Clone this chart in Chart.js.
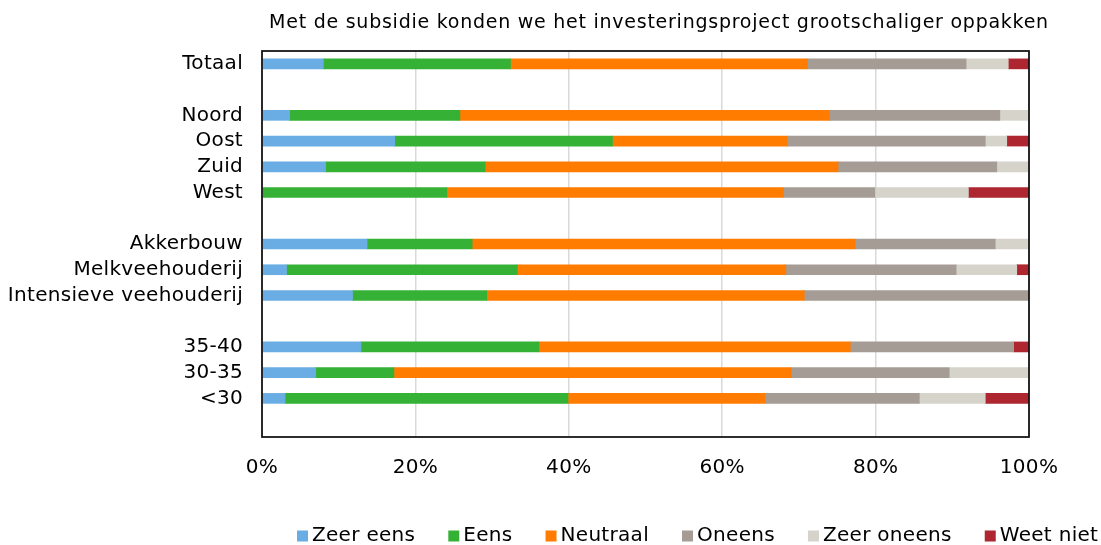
<!DOCTYPE html>
<html>
<head>
<meta charset="utf-8">
<script src="https://cdn.jsdelivr.net/npm/chart.js@4.4.1/dist/chart.umd.min.js"></script>
<style>
  html, body { margin: 0; padding: 0; background: #fff; }
  #wrap { width: 1101px; height: 545px; position: relative; }
</style>
</head>
<body>
<div id="wrap"><canvas id="c" width="1101" height="545"></canvas></div>
<script>
// Rows of the chart; empty strings are spacer rows between groups
const categories = ['Totaal', '', 'Noord', 'Oost', 'Zuid', 'West', '',
  'Akkerbouw', 'Melkveehouderij', 'Intensieve veehouderij', '',
  '35-40', '30-35', '<30', ''];

// Share of answers per row (%)
const zeerEens   = [8.0, null, 3.6, 17.3, 8.3, 0.0, null, 13.7, 3.2, 11.8, null, 12.9, 7.0, 3.0, null];
const eens       = [24.4, null, 22.2, 28.4, 20.8, 24.1, null, 13.7, 30.1, 17.5, null, 23.2, 10.2, 36.9, null];
const neutraal   = [38.7, null, 48.2, 22.8, 46.0, 43.9, null, 49.9, 35.0, 41.4, null, 40.6, 51.8, 25.7, null];
const oneens     = [20.7, null, 22.2, 25.8, 20.7, 11.9, null, 18.3, 22.2, 29.3, null, 21.3, 20.6, 20.1, null];
const zeerOneens = [5.5, null, 3.8, 2.8, 4.2, 12.2, null, 4.4, 7.9, 0.0, null, 0.0, 10.4, 8.6, null];
const weetNiet   = [2.7, null, 0.0, 2.9, 0.0, 7.9, null, 0.0, 1.6, 0.0, null, 2.0, 0.0, 5.7, null];

const seriesNames = ['Zeer eens', 'Eens', 'Neutraal', 'Oneens', 'Zeer oneens', 'Weet niet'];
const seriesColors = ['#6AADE4', '#35B236', '#FF7C00', '#A59C95', '#D6D3CB', '#AE2630'];
const seriesValues = [zeerEens, eens, neutraal, oneens, zeerOneens, weetNiet];

const xTicks = [0, 20, 40, 60, 80, 100];
const title = 'Met de subsidie konden we het investeringsproject grootschaliger oppakken';

const FONT = 'DejaVu Sans, Verdana, sans-serif';
const SPACING = '0.3px';

const datasets = seriesNames.map((name, i) => ({
  label: name,
  data: seriesValues[i],
  backgroundColor: seriesColors[i],
  borderWidth: 0,
  barThickness: 10
}));

// Slightly opened letter spacing for all canvas text
const spacing = {
  id: 'spacing',
  beforeUpdate(chart) { chart.ctx.letterSpacing = SPACING; },
  beforeDraw(chart) { chart.ctx.letterSpacing = SPACING; }
};

// Title, plot frame and legend drawn on the canvas
const decorations = {
  id: 'decorations',
  afterDraw(chart) {
    const ctx = chart.ctx;
    const a = chart.chartArea;
    ctx.save();
    // frame around the plot
    ctx.strokeStyle = '#111';
    ctx.lineWidth = 1.75;
    ctx.strokeRect(a.left, a.top, a.right - a.left, a.bottom - a.top);

    // title
    ctx.fillStyle = '#000';
    ctx.letterSpacing = '0.75px';
    ctx.font = '19px ' + FONT;
    ctx.textAlign = 'center';
    ctx.textBaseline = 'middle';
    ctx.fillText(title, 659, 23);

    // legend
    ctx.letterSpacing = SPACING;
    ctx.font = '20px ' + FONT;
    ctx.textAlign = 'left';
    let x = 297;
    const y = 536;
    chart.data.datasets.forEach(ds => {
      ctx.fillStyle = ds.backgroundColor;
      ctx.fillRect(x, y - 5.5, 11, 11);
      ctx.fillStyle = '#000';
      ctx.fillText(ds.label, x + 15, y);
      x += 15 + ctx.measureText(ds.label).width + 33;
    });
    ctx.restore();
  }
};

new Chart(document.getElementById('c'), {
  type: 'bar',
  data: { labels: categories, datasets },
  options: {
    indexAxis: 'y',
    responsive: false,
    animation: false,
    layout: { padding: { left: 0, right: 72, top: 51, bottom: 0 } },
    plugins: {
      legend: { display: false },
      title: { display: false },
      tooltip: { enabled: false }
    },
    scales: {
      x: {
        stacked: true,
        min: 0,
        max: 100,
        afterBuildTicks(scale) { scale.ticks = xTicks.map(v => ({ value: v })); },
        afterFit(scale) { scale.height = 108; },
        grid: { color: '#D9D9D9', lineWidth: 1.5, drawTicks: false },
        border: { display: false },
        ticks: {
          padding: 19,
          color: '#000',
          font: { family: FONT, size: 20 },
          callback: v => v + '%'
        }
      },
      y: {
        stacked: true,
        afterFit(scale) { scale.width = 262; },
        grid: { display: false, drawTicks: false },
        border: { display: false },
        ticks: {
          padding: 19,
          autoSkip: false,
          color: '#000',
          font: { family: FONT, size: 20 }
        }
      }
    }
  },
  plugins: [spacing, decorations]
});
</script>
</body>
</html>
